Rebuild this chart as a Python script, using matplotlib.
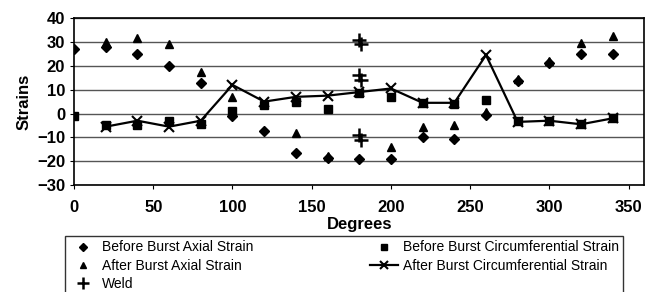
import matplotlib.pyplot as plt

plt.rcParams['font.family'] = ['Liberation Sans', 'DejaVu Sans']

deg = [0, 20, 40, 60, 80, 100, 120, 140, 160, 180, 200, 220, 240, 260, 280, 300, 320, 340]

# before burst axial strain (diamonds)
bb_axial = [27, 28, 25, 20, 13, -1, -7.5, -16.5, -18.5, -19, -19, -10, -10.5, -0.5, 13.5, 21, 25, 25]

# after burst axial strain (triangles), none at 0 / 120 / 180
ab_deg = [20, 40, 60, 80, 100, 140, 160, 200, 220, 240, 260, 280, 300, 320, 340]
ab_axial = [30, 31.5, 29, 17.5, 7, -8, -18, -14, -5.5, -5, 0.5, 14.5, 22, 29.5, 32.5]

# before burst circumferential strain (squares)
bb_circ = [-1, -5, -5, -3, -4.5, 1, 3.5, 5, 2, 8.5, 7, 4.5, 4, 5.5, -3, -3, -4.5, -2]

# after burst circumferential strain (line with x)
ac_deg = [20, 40, 60, 80, 100, 120, 140, 160, 180, 200, 220, 240, 260, 280, 300, 320, 340]
ac_circ = [-5.5, -3, -5.5, -3, 12, 5, 7, 7.5, 9, 10.5, 4.5, 4.5, 24.5, -3.5, -3, -4.5, -2]

# weld positions
weld_deg = [180, 181, 180, 181, 180, 181]
weld_val = [31, 29, 16, 14, -9, -11]

fig = plt.figure(figsize=(6.46, 2.92), dpi=100)
ax = fig.add_axes([0.1146, 0.366, 0.883, 0.572])

ax.plot(deg, bb_axial, linestyle="none", marker="D", markersize=5, color="black",
        label="Before Burst Axial Strain")
ax.plot(deg, bb_circ, linestyle="none", marker="s", markersize=6, color="black",
        label="Before Burst Circumferential Strain")
ax.plot(ab_deg, ab_axial, linestyle="none", marker="^", markersize=6, color="black",
        label="After Burst Axial Strain")
ax.plot(ac_deg, ac_circ, linestyle="-", linewidth=1.6, marker="x", markersize=7,
        markeredgewidth=1.5, color="black", label="After Burst Circumferential Strain")
ax.plot(weld_deg, weld_val, linestyle="none", marker="+", markersize=10,
        markeredgewidth=1.8, color="black", label="Weld")

ax.set_xlim(0, 360)
ax.set_ylim(-30, 40)
ax.set_xticks(range(0, 351, 50))
ax.set_yticks(range(-30, 41, 10))
ax.grid(True, axis="y", color="#555555", linewidth=1)
ax.tick_params(labelsize=12, length=3)
ax.tick_params(axis="x", pad=8)
for lab in ax.get_xticklabels() + ax.get_yticklabels():
    lab.set_fontweight("bold")
for s in ax.spines.values():
    s.set_linewidth(1.2)

ax.set_xlabel("Degrees", fontsize=12, fontweight="bold", labelpad=1)
ax.set_ylabel("Strains", fontsize=12, fontweight="bold", labelpad=4)

h, l = ax.get_legend_handles_labels()
order = [0, 2, 4, 1, 3]
leg = fig.legend([h[i] for i in order], [l[i] for i in order], ncol=2,
                 loc="lower left", bbox_to_anchor=(0.1006, -0.01, 0.864, 0.19),
                 mode="expand", fontsize=10, frameon=True, fancybox=False,
                 edgecolor="black", borderpad=0.3, labelspacing=0.3,
                 handlelength=2, handletextpad=0.35, borderaxespad=0,
                 markerscale=0.8)
leg.get_frame().set_linewidth(1)

fig.savefig("out.png", dpi=100)
